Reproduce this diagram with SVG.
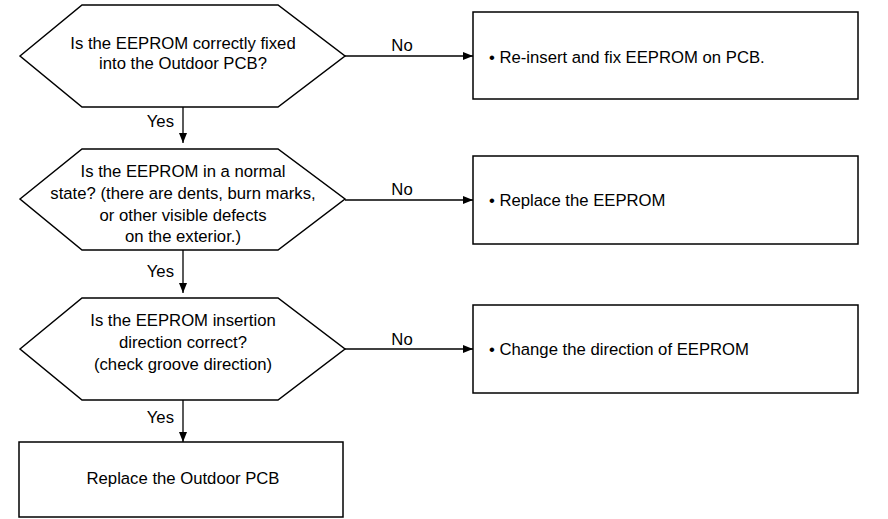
<svg xmlns="http://www.w3.org/2000/svg" width="888" height="519" viewBox="0 0 888 519">
<style>
.shape{fill:#fff;stroke:#000;stroke-width:1.5}
.t{font-family:"Liberation Sans",Arial,sans-serif;font-size:16.7px;fill:#000}
.c{text-anchor:middle}
.conn{stroke:#000;stroke-width:1.3;fill:none;marker-end:url(#ah)}
</style>
<defs>
<marker id="ah" viewBox="0 0 10 10" refX="10" refY="5" markerWidth="10" markerHeight="10" markerUnits="userSpaceOnUse" orient="auto">
<path d="M0,1 L10,5 L0,9 Z" fill="#000"/>
</marker>
</defs>
<rect width="888" height="519" fill="#fff"/>
<g id="connectors">
<line class="conn" x1="345" y1="56" x2="473" y2="56"/>
<line class="conn" x1="345" y1="200" x2="473" y2="200"/>
<line class="conn" x1="345" y1="349" x2="473" y2="349"/>
<line class="conn" x1="183" y1="107" x2="183" y2="143"/>
<line class="conn" x1="183" y1="250" x2="183" y2="293"/>
<line class="conn" x1="183" y1="400" x2="183" y2="442"/>
<text class="t" x="402" y="51" text-anchor="middle">No</text>
<text class="t" x="402" y="195" text-anchor="middle">No</text>
<text class="t" x="402" y="345" text-anchor="middle">No</text>
<text class="t" x="174" y="127" text-anchor="end">Yes</text>
<text class="t" x="174" y="277" text-anchor="end">Yes</text>
<text class="t" x="174" y="423" text-anchor="end">Yes</text>
</g>
<g id="d1">
<polygon class="shape" points="20,56 82,5 278,5 345,56 278,107 82,107"/>
<text class="t c" x="183" y="49">Is the EEPROM correctly fixed</text>
<text class="t c" x="183" y="69">into the Outdoor PCB?</text>
</g>
<g id="b1">
<rect class="shape" x="473" y="12" width="385" height="87"/>
<text class="t" x="489" y="63">• Re-insert and fix EEPROM on PCB.</text>
</g>
<g id="d2">
<polygon class="shape" points="20,199 82,149 278,149 345,199 278,250 82,250"/>
<text class="t c" x="183" y="177">Is the EEPROM in a normal</text>
<text class="t c" x="183" y="199">state? (there are dents, burn marks,</text>
<text class="t c" x="183" y="221">or other visible defects</text>
<text class="t c" x="183" y="242">on the exterior.)</text>
</g>
<g id="b2">
<rect class="shape" x="473" y="156" width="385" height="88"/>
<text class="t" x="489" y="206">• Replace the EEPROM</text>
</g>
<g id="d3">
<polygon class="shape" points="20,349 82,298 278,298 345,349 278,400 82,400"/>
<text class="t c" x="183" y="326">Is the EEPROM insertion</text>
<text class="t c" x="183" y="348">direction correct?</text>
<text class="t c" x="183" y="370">(check groove direction)</text>
</g>
<g id="b3">
<rect class="shape" x="473" y="305" width="385" height="88"/>
<text class="t" x="489" y="355">• Change the direction of EEPROM</text>
</g>
<g id="b4">
<rect class="shape" x="19" y="442" width="324" height="75"/>
<text class="t c" x="183" y="484">Replace the Outdoor PCB</text>
</g>
</svg>
